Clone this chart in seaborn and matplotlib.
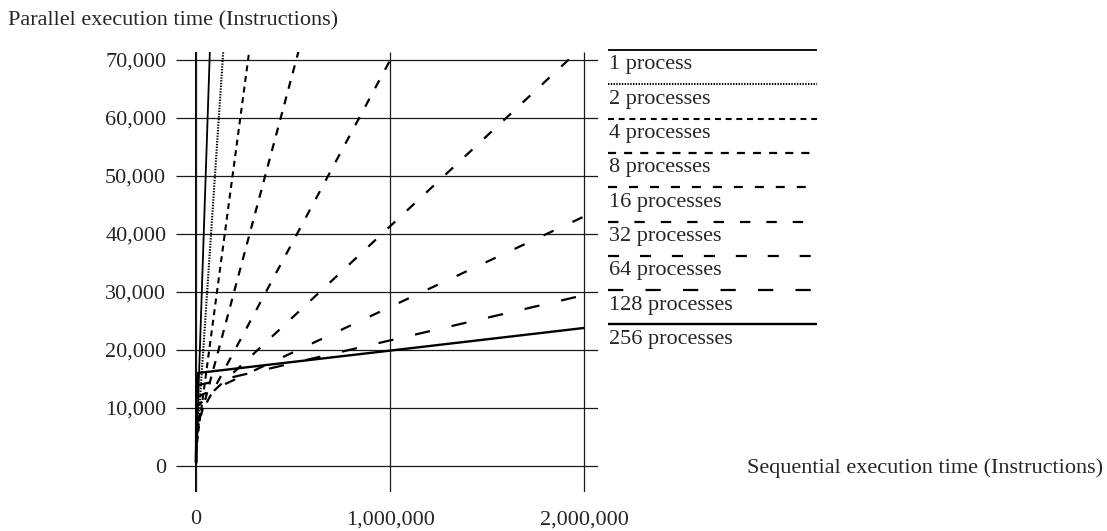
import matplotlib
matplotlib.use('Agg')
import matplotlib.pyplot as plt
import seaborn as sns

# sequential execution time (x) shared by all series
seq = [100, 1000, 10000, 100000, 1000000, 2000000]

# parallel execution time for each process count
par_1 = [300, 1200, 10200, 100200, 1000200, 2000200]
par_2 = [350, 1700, 6300, 51300, 501300, 1001300]
par_4 = [400, 2500, 5500, 28000, 253000, 503000]
par_8 = [450, 3500, 6750, 18000, 130500, 255500]
par_16 = [500, 5000, 8100, 13750, 70000, 132500]
par_32 = [550, 6500, 10400, 13200, 41350, 72600]
par_64 = [600, 8000, 11950, 13350, 27425, 43050]
par_128 = [650, 9500, 13930, 14630, 21660, 29475]
par_256 = [700, 11000, 16040, 16390, 19900, 23810]

labels = ['1 process', '2 processes', '4 processes', '8 processes', '16 processes',
          '32 processes', '64 processes', '128 processes', '256 processes']
series = [par_1, par_2, par_4, par_8, par_16, par_32, par_64, par_128, par_256]

yticks = [0, 10000, 20000, 30000, 40000, 50000, 60000, 70000]
xticks = [0, 1000000, 2000000]

# line looks (dash lengths in points)
styles = ['-', (0, (1.0, 1.0)), (0, (4.3, 3.4)), (0, (5.8, 5.8)), (0, (6.5, 8.6)),
          (0, (7.5, 11.5)), (0, (8, 15)), (0, (11, 16)), '-']
widths = [1.3, 1.5, 1.5, 1.6, 1.6, 1.6, 1.6, 1.6, 1.7]

sns.set_style('white')
plt.rcParams['font.family'] = ['Liberation Serif', 'DejaVu Serif']
plt.rcParams['lines.scale_dashes'] = False
plt.rcParams['lines.solid_capstyle'] = 'butt'
plt.rcParams['lines.dash_capstyle'] = 'butt'

fig = plt.figure(figsize=(11.07, 5.31), dpi=100)
ax = fig.add_axes([176 / 1107, 39 / 531, 422 / 1107, 440 / 531])

for vals, ls, lw in zip(series, styles, widths):
    sns.lineplot(x=seq, y=vals, ax=ax, color='black', linestyle=ls, linewidth=lw,
                 estimator=None, sort=False)

ax.set_xlim(-103000, 2070000)
ax.set_ylim(-4480, 71380)
ax.set_xticks(xticks)
ax.set_yticks(yticks)
ax.set_xticklabels([f'{v:,}' for v in xticks], fontsize=16)
ax.set_yticklabels([f'{v:,}' for v in yticks], fontsize=16)
ax.tick_params(length=0)
ax.tick_params(axis='x', pad=13)
ax.tick_params(axis='y', pad=7)
ax.grid(True, color='#1a1a1a', linewidth=0.9)
ax.axvline(0, color='black', linewidth=1.4, zorder=0.5)
for s in ax.spines.values():
    s.set_visible(False)

# legend: line sample above each label
lax = fig.add_axes([0, 0, 1, 1], facecolor='none')
lax.set_xlim(0, 1107)
lax.set_ylim(531, 0)
lax.axis('off')
for i, (lab, ls, lw) in enumerate(zip(labels, styles, widths)):
    y = 50 + i * 34.3
    lax.plot([608, 817], [y, y], color='black', linestyle=ls, linewidth=lw)
    lax.text(609, y + 15, lab, fontsize=16, va='center', ha='left')

fig.text(8 / 1107, 1 - 21 / 531, 'Parallel execution time (Instructions)',
         fontsize=16, va='center', ha='left')
fig.text(1103 / 1107, 1 - 468 / 531, 'Sequential execution time (Instructions)',
         fontsize=16, va='center', ha='right')

fig.savefig('out.png', dpi=100)
